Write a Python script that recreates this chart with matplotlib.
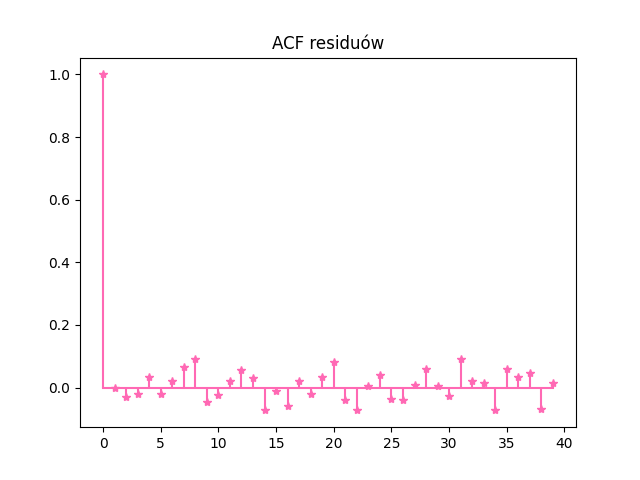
import numpy as np
import matplotlib
matplotlib.use('Agg')
import matplotlib.pyplot as plt

lags = np.arange(40)
acf_vals = [1.0, -0.002, -0.03, -0.02, 0.035, -0.022, 0.022, 0.064, 0.09, -0.045,
            -0.025, 0.02, 0.055, 0.03, -0.073, -0.01, -0.06, 0.02, -0.022, 0.035,
            0.08, -0.04, -0.073, 0.004, 0.04, -0.037, -0.04, 0.007, 0.06, 0.004,
            -0.028, 0.09, 0.022, 0.016, -0.073, 0.06, 0.033, 0.048, -0.07, 0.013]

fig, ax = plt.subplots(figsize=(6.4, 4.8), dpi=100)
markers, stems, base = ax.stem(lags, acf_vals, linefmt='-', markerfmt='*', basefmt='-')
plt.setp(markers, color='hotpink')
plt.setp(stems, color='hotpink')
plt.setp(base, color='hotpink')
ax.set_xlim(-2, 41)
ax.set_title('ACF residuów')
fig.savefig('out.png')
